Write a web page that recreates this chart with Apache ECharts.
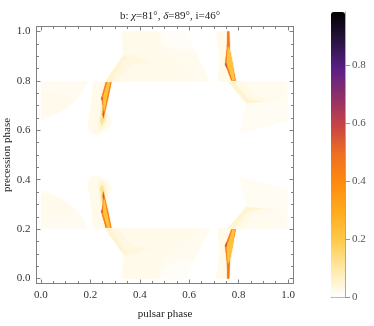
<!DOCTYPE html>
<html>
<head>
<meta charset="utf-8">
<style>
  html, body { margin: 0; padding: 0; background: #fff; }
  #main { width: 374px; height: 326px; }
</style>
</head>
<body>
<div id="main"></div>
<script src="https://cdn.jsdelivr.net/npm/echarts@6/dist/echarts.min.js"></script>
<script>
// colour ramp of the bar, equal steps from 0 to barMax
const barMax = 0.983
const ramp = ['#ffffff', '#ffe9a6', '#ffc94a', '#ffab1c', '#ff8a10', '#ee7020', '#c84444', '#90306a', '#5a1f85', '#28143f', '#000000']

const xMajor = [0, 0.2, 0.4, 0.6, 0.8, 1]
const yMajor = [0, 0.2, 0.4, 0.6, 0.8, 1]
const minor = [0.05, 0.1, 0.15, 0.25, 0.3, 0.35, 0.45, 0.5, 0.55, 0.65, 0.7, 0.75, 0.85, 0.9, 0.95]
const barMajor = [0, 0.2, 0.4, 0.6, 0.8]
const barMinor = [0.05, 0.1, 0.15, 0.25, 0.3, 0.35, 0.65, 0.7, 0.75, 0.85, 0.9, 0.95]

// regions of the map, [pulsar phase, precession phase]
// upper half
const arcUL = [[0, .797], [.19, .797], [.17, .755], [.13, .71], [.07, .67], [0, .64]]
const arcULin = [[0, .755], [.05, .755], [.11, .735], [.13, .71], [.07, .67], [0, .66]]
const fanUL = [[.212, .797], [.205, .72], [.19, .625], [.195, .595], [.225, .58], [.265, .6], [.287, .63], [.268, .68], [.285, .797]]
const glowUL1 = [[.232, .62], [.24, .6], [.258, .615], [.266, .65], [.262, .7], [.245, .72], [.238, .67]]
const glowUL2 = [[.24, .635], [.247, .62], [.256, .64], [.258, .68], [.248, .69]]
const streakUL = [[.263, .797], [.244, .73], [.25, .7], [.251, .645], [.258, .67], [.272, .73], [.286, .797]]
const streakULin = [[.269, .793], [.28, .793], [.267, .735], [.257, .68], [.254, .68], [.253, .71], [.25, .73]]
const tipUL = [[.25, .665], [.253, .65], [.255, .665], [.253, .68]]
const capUL = [[.244, .73], [.249, .735], [.249, .72]]
const blockUC = [[.325, 1], [.583, 1], [.686, .797], [.26, .797], [.333, .905]]
const blockUCr = [[.48, 1], [.583, 1], [.62, .925], [.55, .93], [.5, .95]]
const blockUCd = [[.333, 1], [.47, 1], [.49, .92], [.57, .86], [.64, .797], [.26, .797], [.335, .905]]
const bandUC = [[.26, .797], [.335, .905], [.37, .905], [.44, .875], [.37, .87], [.31, .797]]
const bandUCd = [[.26, .797], [.333, .9], [.36, .895], [.335, .885], [.285, .797]]
const fanUR = [[.708, 1], [.76, 1], [.79, .797], [.716, .797], [.722, .9]]
const streakUR = [[.754, 1], [.762, 1], [.765, .92], [.789, .797], [.772, .797], [.752, .85], [.745, .868], [.752, .93]]
const streakURin = [[.757, .94], [.762, .93], [.776, .87], [.784, .802], [.775, .802], [.762, .845], [.751, .868]]
const coreUR = [[.756, 1], [.76, 1], [.76, .94], [.757, .94]]
const capUR = [[.745, .868], [.75, .872], [.754, .855], [.75, .855]]
const blockUR = [[.757, .797], [1, .797], [1, .64], [.803, .585], [.83, .71]]
const blockURd = [[.757, .797], [.985, .797], [.985, .725], [.83, .712]]
const bandUR = [[.757, .797], [.83, .712], [.95, .72], [.86, .74], [.82, .797]]
const bandURd = [[.757, .797], [.83, .71], [.9, .717], [.84, .725], [.78, .797]]
// lower half
const arcLL = [[0, .203], [.19, .203], [.17, .245], [.13, .29], [.07, .33], [0, .36]]
const arcLLin = [[0, .245], [.05, .245], [.11, .265], [.13, .29], [.07, .33], [0, .34]]
const fanLL = [[.212, .203], [.205, .28], [.19, .375], [.195, .405], [.225, .42], [.265, .4], [.287, .37], [.268, .32], [.285, .203]]
const glowLL1 = [[.232, .38], [.24, .4], [.258, .385], [.266, .35], [.262, .3], [.245, .28], [.238, .33]]
const glowLL2 = [[.24, .365], [.247, .38], [.256, .36], [.258, .32], [.248, .31]]
const streakLL = [[.263, .203], [.244, .27], [.25, .3], [.251, .355], [.258, .33], [.272, .27], [.286, .203]]
const streakLLin = [[.269, .207], [.28, .207], [.267, .265], [.257, .32], [.254, .32], [.253, .29], [.25, .27]]
const tipLL = [[.25, .335], [.253, .35], [.255, .335], [.253, .32]]
const capLL = [[.244, .27], [.249, .265], [.249, .28]]
const blockLC = [[.325, 0], [.583, 0], [.686, .203], [.26, .203], [.333, .095]]
const blockLCr = [[.48, 0], [.583, 0], [.62, .075], [.55, .07], [.5, .05]]
const blockLCd = [[.333, 0], [.47, 0], [.49, .08], [.57, .14], [.64, .203], [.26, .203], [.335, .095]]
const bandLC = [[.26, .203], [.335, .095], [.37, .095], [.44, .125], [.37, .13], [.31, .203]]
const bandLCd = [[.26, .203], [.333, .1], [.36, .105], [.335, .115], [.285, .203]]
const fanLR = [[.708, 0], [.76, 0], [.79, .203], [.716, .203], [.722, .1]]
const streakLR = [[.754, 0], [.762, 0], [.765, .08], [.789, .203], [.772, .203], [.752, .15], [.745, .132], [.752, .07]]
const streakLRin = [[.757, .06], [.762, .07], [.776, .13], [.784, .198], [.775, .198], [.762, .155], [.751, .132]]
const coreLR = [[.756, 0], [.76, 0], [.76, .06], [.757, .06]]
const capLR = [[.745, .132], [.75, .128], [.754, .145], [.75, .145]]
const blockLR = [[.757, .203], [1, .203], [1, .36], [.803, .415], [.83, .29]]
const blockLRd = [[.757, .203], [.985, .203], [.985, .275], [.83, .288]]
const bandLR = [[.757, .203], [.83, .288], [.95, .28], [.86, .26], [.82, .203]]
const bandLRd = [[.757, .203], [.83, .29], [.9, .283], [.84, .275], [.78, .203]]

const shapes = [
  arcUL, arcULin, fanUL, glowUL1, glowUL2, streakUL, streakULin, tipUL, capUL,
  blockUC, blockUCr, blockUCd, bandUC, bandUCd,
  fanUR, streakUR, streakURin, coreUR, capUR,
  blockUR, blockURd, bandUR, bandURd,
  arcLL, arcLLin, fanLL, glowLL1, glowLL2, streakLL, streakLLin, tipLL, capLL,
  blockLC, blockLCr, blockLCd, bandLC, bandLCd,
  fanLR, streakLR, streakLRin, coreLR, capLR,
  blockLR, blockLRd, bandLR, bandLRd
]
const shapeValues = [
  .016, .022, .024, .045, .12, .43, .22, .55, .55,
  .018, .009, .024, .034, .05,
  .024, .43, .22, .46, .55,
  .012, .018, .028, .05,
  .016, .022, .024, .045, .12, .43, .22, .55, .55,
  .018, .009, .024, .034, .05,
  .024, .43, .22, .46, .55,
  .012, .018, .028, .05
]

const serif = '"Liberation Serif", "Times New Roman", serif'
const gray = '#808080'

function ticks(values, len) {
  return { show: true, inside: true, length: len, customValues: values, lineStyle: { color: gray, width: 1 } }
}

// main frame, one axis per side for long ticks and one for short ones
function frameAxis(position, major, isMajor, labels, name) {
  return {
    type: 'value',
    gridIndex: 0,
    position: position,
    min: position === 'left' || position === 'right' ? -0.02 : -0.018,
    max: position === 'left' || position === 'right' ? 1.02 : 1.022,
    splitLine: { show: false },
    axisLine: { show: isMajor, onZero: false, lineStyle: { color: gray, width: 1 } },
    axisTick: ticks(isMajor ? major : minor, isMajor ? 4 : 2.5),
    axisLabel: labels
      ? { show: true, customValues: major, margin: 6, color: '#333', fontFamily: serif, fontSize: 11, formatter: v => v.toFixed(1) }
      : { show: false },
    name: name || '',
    nameLocation: 'middle',
    nameMoveOverlap: false,
    nameGap: position === 'left' ? 24 : 25,
    nameTextStyle: { color: '#222', fontFamily: serif, fontSize: 11 }
  }
}

const myChart = echarts.init(document.getElementById('main'))
const option = {
  animation: false,
  backgroundColor: '#fff',
  title: {
    left: 165,
    top: 6,
    textAlign: 'center',
    text: '{t|b: }{i|χ}{t|=81°, }{i|δ}{t|=89°, i=46°}',
    textStyle: {
      fontWeight: 'normal',
      rich: {
        t: { fontFamily: serif, fontSize: 11, color: '#222', fontWeight: 'normal' },
        i: { fontFamily: serif, fontSize: 11, color: '#222', fontStyle: 'italic', fontWeight: 'normal' }
      }
    }
  },
  grid: [
    { left: 36.5, top: 26.5, width: 257, height: 257, show: false, outerBoundsMode: 'none' },
    { left: 331, top: 12, width: 14, height: 285, show: false, outerBoundsMode: 'none' }
  ],
  xAxis: [
    frameAxis('bottom', xMajor, true, true, 'pulsar phase'),
    frameAxis('bottom', xMajor, false, false),
    frameAxis('top', xMajor, true, false),
    frameAxis('top', xMajor, false, false),
    {
      type: 'value', gridIndex: 1, position: 'bottom', min: 0, max: 1,
      splitLine: { show: false }, axisTick: { show: false }, axisLabel: { show: false },
      axisLine: { show: true, onZero: false, lineStyle: { color: '#bbb', width: 1 } }
    }
  ],
  yAxis: [
    frameAxis('left', yMajor, true, true, 'precession phase'),
    frameAxis('left', yMajor, false, false),
    frameAxis('right', yMajor, true, false),
    frameAxis('right', yMajor, false, false),
    {
      type: 'value', gridIndex: 1, position: 'right', min: 0, max: barMax,
      splitLine: { show: false },
      axisLine: { show: true, onZero: false, lineStyle: { color: '#aaa', width: 1 } },
      axisTick: { show: true, length: 5, customValues: barMajor, lineStyle: { color: '#999' } },
      axisLabel: {
        show: true, customValues: barMajor, margin: 7, color: '#555', fontFamily: serif, fontSize: 11,
        formatter: v => (v === 0 ? '0' : v.toFixed(1))
      }
    },
    {
      type: 'value', gridIndex: 1, position: 'right', min: 0, max: barMax,
      splitLine: { show: false }, axisLine: { show: false }, axisLabel: { show: false },
      axisTick: { show: true, length: 2, customValues: barMinor, lineStyle: { color: '#bbb' } }
    }
  ],
  visualMap: {
    type: 'continuous',
    seriesIndex: 0,
    dimension: 0,
    min: 0,
    max: barMax,
    left: 331,
    top: 12,
    padding: 0,
    itemWidth: 14,
    itemHeight: 285,
    calculable: false,
    realtime: false,
    showLabel: false,
    text: null,
    inRange: { color: ramp }
  },
  series: [
    {
      type: 'custom',
      xAxisIndex: 0,
      yAxisIndex: 0,
      silent: true,
      clip: true,
      data: shapes.map((s, i) => [shapeValues[i], i]),
      renderItem: function (params, api) {
        const pts = shapes[api.value(1)].map(p => api.coord(p))
        const c = api.visual('color')
        // soft edge, the regions have no hard outline
        return { type: 'polygon', shape: { points: pts }, style: { fill: c, shadowBlur: 1, shadowColor: c } }
      }
    }
  ]
}
myChart.setOption(option)
</script>
</body>
</html>
